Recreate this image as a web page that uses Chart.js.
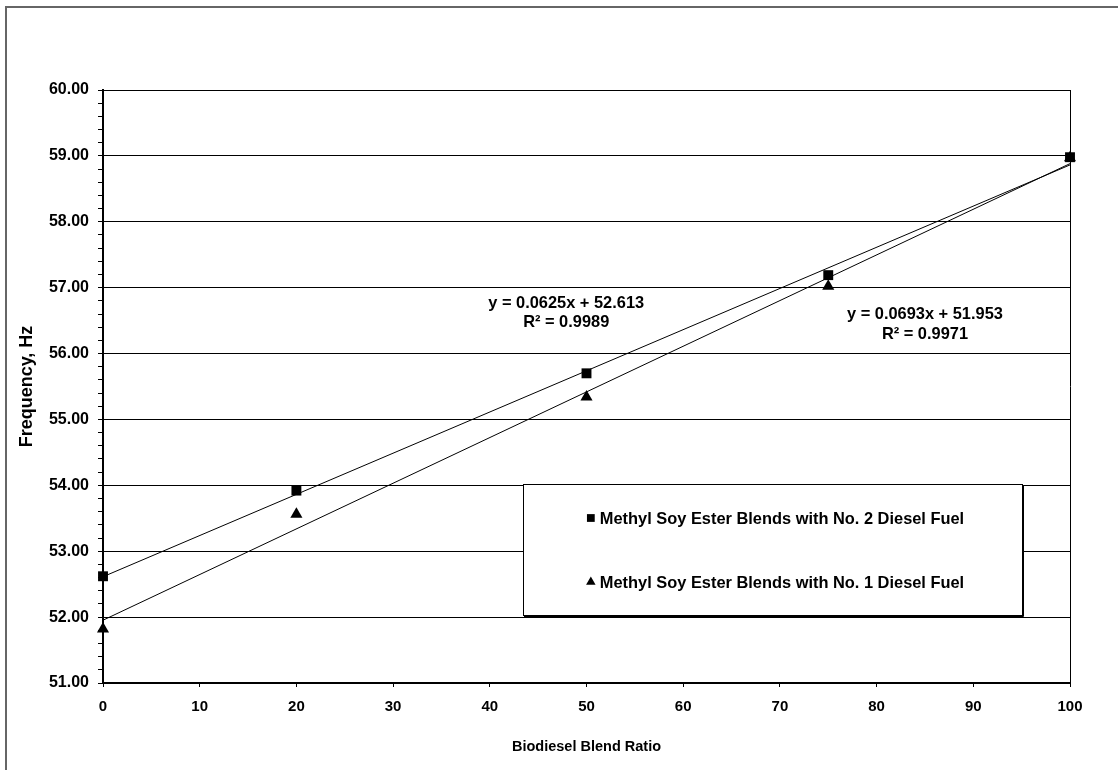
<!DOCTYPE html>
<html>
<head>
<meta charset="utf-8">
<script src="https://cdn.jsdelivr.net/npm/chart.js@4.4.1/dist/chart.umd.min.js"></script>
<style>
  html, body { margin: 0; padding: 0; background: #fff; }
  #wrap { position: relative; width: 1118px; height: 770px; overflow: hidden; }
  #frame { position: absolute; left: 5px; top: 6px; right: -10px; bottom: -10px;
           border-left: 2px solid #666; border-top: 2px solid #666; }
  canvas { position: absolute; left: 0; top: 0; }
</style>
</head>
<body>
<div id="wrap">
  <div id="frame"></div>
  <canvas id="chart" width="1118" height="770"></canvas>
</div>
<script>
// data
const blendRatio = [0, 20, 50, 75, 100];
const freqNo2 = [52.62, 53.92, 55.70, 57.19, 58.98];
const freqNo1 = [51.82, 53.56, 55.34, 57.02, 58.97];
const trendX = [0, 100];
const trendNo2 = [52.613, 58.863];
const trendNo1 = [51.953, 58.883];
const seriesNames = [
    'Methyl Soy Ester Blends with No. 2 Diesel Fuel',
    'Methyl Soy Ester Blends with No. 1 Diesel Fuel'
];
const trendLabels = [
    ['y = 0.0625x + 52.613', 'R\u00b2 = 0.9989'],
    ['y = 0.0693x + 51.953', 'R\u00b2 = 0.9971']
];
const yMin = 51, yMax = 60, yMinorStep = 0.2;
const xMin = 0, xMax = 100, xStep = 10;

const FONT = '"Liberation Sans", Arial, sans-serif';

function toPoints(xs, ys) {
    return xs.map((x, i) => ({ x: x, y: ys[i] }));
}

// where the equation labels sit (data units) and the legend box (pixels)
const labelAnchors = [{ x: 47.9, y: 56.76 }, { x: 85, y: 56.59 }];
const legendBox = { left: 523, top: 484, right: 1022, bottom: 615 };

const extras = {
    id: 'extras',
    afterDatasetsDraw(chart) {
        const { ctx, chartArea: a, scales } = chart;
        ctx.save();
        // right edge of plot area
        ctx.strokeStyle = '#000';
        ctx.lineWidth = 1;
        ctx.beginPath();
        ctx.moveTo(a.right + 0.5, a.top);
        ctx.lineTo(a.right + 0.5, a.bottom);
        ctx.stroke();

        // trendline equations
        ctx.fillStyle = '#000';
        ctx.font = 'bold 16.4px ' + FONT;
        ctx.textAlign = 'center';
        ctx.textBaseline = 'middle';
        trendLabels.forEach((lines, i) => {
            const px = scales.x.getPixelForValue(labelAnchors[i].x);
            const py = scales.y.getPixelForValue(labelAnchors[i].y);
            ctx.fillText(lines[0], px, py);
            ctx.fillText(lines[1], px, py + 19.5);
        });

        // legend box
        const b = legendBox;
        ctx.fillStyle = '#fff';
        ctx.fillRect(b.left, b.top, b.right - b.left, b.bottom - b.top);
        ctx.strokeStyle = '#000';
        ctx.lineWidth = 1;
        ctx.strokeRect(b.left + 0.5, b.top + 0.5, b.right - b.left, b.bottom - b.top);
        ctx.beginPath();
        ctx.moveTo(b.left + 1, b.bottom + 1.5);
        ctx.lineTo(b.right + 1.5, b.bottom + 1.5);
        ctx.lineTo(b.right + 1.5, b.top + 1);
        ctx.stroke();

        ctx.font = 'bold 16.4px ' + FONT;
        ctx.textAlign = 'left';
        const rows = [b.top + 34, b.top + 98];
        chart.data.datasets.slice(0, 2).forEach((ds, i) => {
            const tw = ctx.measureText(ds.label).width;
            const total = tw + 13;
            const x0 = (b.left + b.right) / 2 - total / 2 + 3;
            ctx.fillStyle = '#000';
            Chart.helpers.drawPoint(ctx, {
                pointStyle: ds.pointStyle, radius: 5.5, rotation: 0, borderWidth: 0
            }, x0 + 4, rows[i]);
            ctx.fillText(ds.label, x0 + 13, rows[i] + 1);
        });
        ctx.restore();
    }
};

const ctx = document.getElementById('chart').getContext('2d');
new Chart(ctx, {
    type: 'scatter',
    data: {
        datasets: [
            {
                label: seriesNames[0],
                data: toPoints(blendRatio, freqNo2),
                pointStyle: 'rect',
                pointRadius: 7,
                backgroundColor: '#000',
                borderColor: '#000',
                borderWidth: 0,
                clip: false
            },
            {
                label: seriesNames[1],
                data: toPoints(blendRatio, freqNo1),
                pointStyle: 'triangle',
                pointRadius: 7,
                backgroundColor: '#000',
                borderColor: '#000',
                borderWidth: 0,
                clip: false
            },
            {
                label: 'trend2',
                data: toPoints(trendX, trendNo2),
                showLine: true,
                pointRadius: 0,
                borderColor: '#000',
                borderWidth: 1
            },
            {
                label: 'trend1',
                data: toPoints(trendX, trendNo1),
                showLine: true,
                pointRadius: 0,
                borderColor: '#000',
                borderWidth: 1
            }
        ]
    },
    options: {
        responsive: false,
        animation: false,
        devicePixelRatio: 1,
        layout: { padding: { left: 0, top: 90, right: 48, bottom: 0 } },
        plugins: {
            legend: { display: false },
            tooltip: { enabled: false }
        },
        scales: {
            x: {
                type: 'linear',
                min: xMin,
                max: xMax,
                afterFit: (s) => { s.height = 87; },
                ticks: {
                    stepSize: xStep,
                    color: '#000',
                    padding: 11,
                    font: { family: FONT, size: 15, weight: 'bold' }
                },
                grid: {
                    drawOnChartArea: false,
                    tickLength: 4,
                    tickColor: '#000'
                },
                border: { color: '#000', width: 2 },
                title: {
                    display: true,
                    text: 'Biodiesel Blend Ratio',
                    color: '#000',
                    font: { family: FONT, size: 14.5, weight: 'bold' },
                    padding: { top: 0, bottom: 14 }
                }
            },
            y: {
                min: yMin,
                max: yMax,
                afterFit: (s) => { s.width = 103; },
                ticks: {
                    stepSize: yMinorStep,
                    color: '#000',
                    padding: 9,
                    autoSkip: false,
                    font: { family: FONT, size: 16, weight: 'bold' },
                    callback: (v) => Math.abs(v - Math.round(v)) < 1e-6 ? v.toFixed(2) : ''
                },
                grid: {
                    tickLength: 5,
                    color: (c) => c.tick && Math.abs(c.tick.value - Math.round(c.tick.value)) < 1e-6 ? '#000' : 'rgba(0,0,0,0)',
                    tickColor: '#000'
                },
                border: { color: '#000', width: 2 },
                title: {
                    display: true,
                    text: 'Frequency, Hz',
                    color: '#000',
                    font: { family: FONT, size: 18, weight: 'bold' },
                    padding: { top: 16, bottom: 0 }
                }
            }
        }
    },
    plugins: [extras]
});
</script>
</body>
</html>
